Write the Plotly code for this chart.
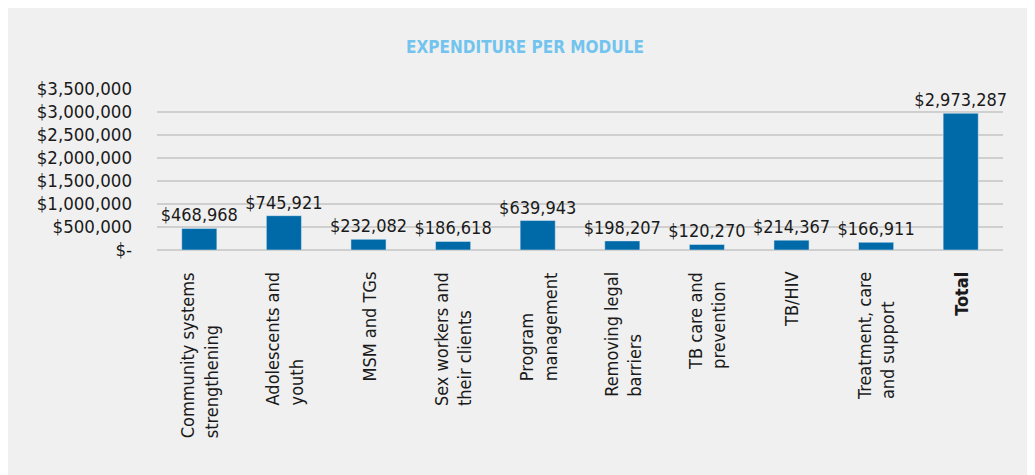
import plotly.graph_objects as go

# module names (line breaks as in the source chart) and spend in USD
modules = ["Community systems<br>strengthening", "Adolescents and<br>youth", "MSM and TGs",
           "Sex workers and<br>their clients", "Program<br>management", "Removing legal<br>barriers",
           "TB care and<br>prevention", "TB/HIV", "Treatment, care<br>and support", "<b>Total</b>"]
spend = [468968, 745921, 232082, 186618, 639943, 198207, 120270, 214367, 166911, 2973287]

tick_vals = [0, 500000, 1000000, 1500000, 2000000, 2500000, 3000000, 3500000]
tick_text = ["$-", "$500,000", "$1,000,000", "$1,500,000", "$2,000,000",
             "$2,500,000", "$3,000,000", "$3,500,000"]

FONT = "DejaVu Sans Condensed, Liberation Sans Narrow, sans-serif"
W, H = 1035, 475
# the page body adds an 8px offset, so margins are shifted to compensate
L, R, T, B = 149, 40, 81, 233
ph = H - T - B

fig = go.Figure(go.Bar(
    x=list(range(len(modules))), y=spend,
    marker_color="#006aa8",
    texttemplate="$%{y:,}", textposition="outside", cliponaxis=False,
    constraintext="none",
    textfont=dict(family=FONT, size=18, color="#1a1a1a"),
    hoverinfo="skip",
))

# category labels as rotated, left-aligned annotations under the axis
for i, name in enumerate(modules):
    fig.add_annotation(x=i, y=-20 / ph, xref="x", yref="paper", text=name,
                       textangle=-90, showarrow=False, align="left",
                       xanchor="center", yanchor="top",
                       font=dict(family=FONT, size=18, color="#1a1a1a"))

fig.update_layout(
    width=W, height=H,
    margin=dict(l=L, r=R, t=T, b=B),
    paper_bgcolor="#f0f0f0", plot_bgcolor="#f0f0f0",
    showlegend=False, bargap=0.585,
    title=dict(text="<b>EXPENDITURE PER MODULE</b>", xref="container", x=517 / W,
               xanchor="center", yref="container", y=1 - 39 / H, yanchor="middle",
               font=dict(family=FONT, size=17, color="#72c4ee")),
    font=dict(family=FONT, color="#1a1a1a"),
)
fig.update_xaxes(range=[-0.5, len(modules) - 0.5], showticklabels=False,
                 showgrid=False, zeroline=False, showline=False)
fig.update_yaxes(range=[0, 3500000], tickvals=tick_vals, ticktext=tick_text,
                 tickfont=dict(family=FONT, size=18.5, color="#1a1a1a"),
                 ticklabelstandoff=24,
                 showgrid=True, gridcolor="#cfcfcf", gridwidth=1.5,
                 zeroline=True, zerolinecolor="#cfcfcf", zerolinewidth=1.5)

fig.write_html("out.html")
